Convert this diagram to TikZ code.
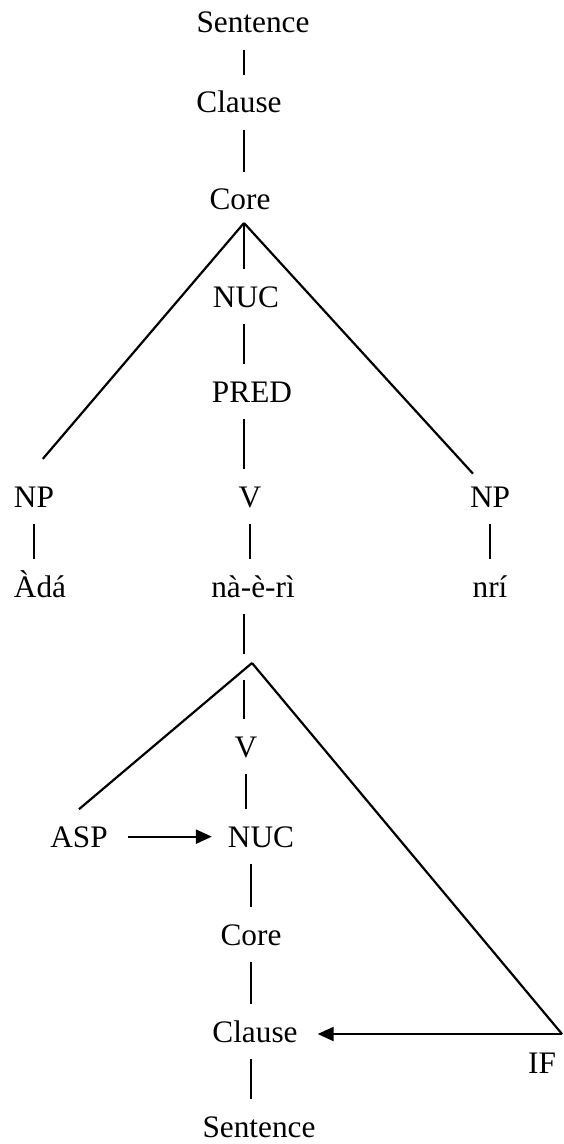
\documentclass[tikz,border=0pt]{standalone}
\usepackage{fontspec}
\setmainfont{Liberation Serif}
\usetikzlibrary{arrows.meta}

\begin{document}
\begin{tikzpicture}[x=0.5pt, y=-0.5pt, line width=1.1pt,
  lbl/.style={font=\fontsize{15.65pt}{18pt}\selectfont, inner xsep=0pt, inner ysep=8pt,
    text height=10.35pt, text depth=0pt, anchor=base},
  arr/.style={-{Triangle[length=8pt,width=7pt]}}]
\useasboundingbox (0,0) rectangle (563,1144);
% UPPER TREE
\node[lbl] (sent1) at (253,33) {Sentence};
\node[lbl] (cls1) at (239,113) {Clause};
\node[lbl] (core1) at (240,210) {Core};
\node[lbl] (nuc1) at (246,307) {NUC};
\node[lbl] (pred) at (252,402) {PRED};
\node[lbl] (npL) at (34,507) {NP};
\node[lbl] (v1) at (250,507) {V};
\node[lbl] (npR) at (490,507) {NP};
\node[lbl] (ada) at (40,597) {Àdá};
\node[lbl] (nae) at (253,597) {nà-è-rì};
\node[lbl] (nri) at (490,597) {nrí};
\coordinate (apex1) at (244,223);
\draw (sent1.south -| apex1) -- (cls1.north -| apex1);
\draw (cls1.south -| apex1) -- (core1.north -| apex1);
\draw (apex1) -- (nuc1.north -| apex1);
\draw (nuc1.south -| apex1) -- (pred.north -| apex1);
\draw (pred.south -| apex1) -- (v1.north -| apex1);
\draw[shorten >=6.75pt] (apex1) -- (npL.north);
\draw[shorten >=-3pt] (apex1) -- (npR.north west);
\draw (npL.south) -- (ada.north -| npL.south);
\draw (v1.south) -- (nae.north -| v1.south);
\draw (npR.south) -- (nri.north -| npR.south);
% LOWER TREE
\node[lbl] (v2) at (246,757) {V};
\node[lbl] (asp) at (79,847) {ASP};
\node[lbl] (nuc2) at (261,847) {NUC};
\node[lbl] (core2) at (251,945) {Core};
\node[lbl] (cls2) at (255,1042) {Clause};
\node[lbl] (if) at (542,1073) {IF};
\node[lbl] (sent2) at (259,1137) {Sentence};
\coordinate (apex2) at (252,663);
\coordinate (ifc) at (562,1034);
\draw[shorten >=4.5pt] (nae.south -| apex1) -- (apex2 -| apex1);
\draw[shorten <=8.5pt] (apex2 -| apex1) -- (v2.north -| apex1);
\draw (apex2) -- (asp.north);
\draw (apex2) -- (ifc);
\draw (v2.south) -- (nuc2.north -| v2.south);
\draw (nuc2.south -| core2) -- (core2.north);
\draw (core2.south) -- (cls2.north -| core2.south);
\draw (cls2.south -| core2) -- (sent2.north -| core2);
% ARROWS
\draw[arr, shorten <=9.5pt, shorten >=7.5pt] (asp.east) -- (nuc2.west);
\draw[arr, shorten >=9.5pt] (ifc) -- (ifc -| cls2.east);
\end{tikzpicture}
\end{document}
